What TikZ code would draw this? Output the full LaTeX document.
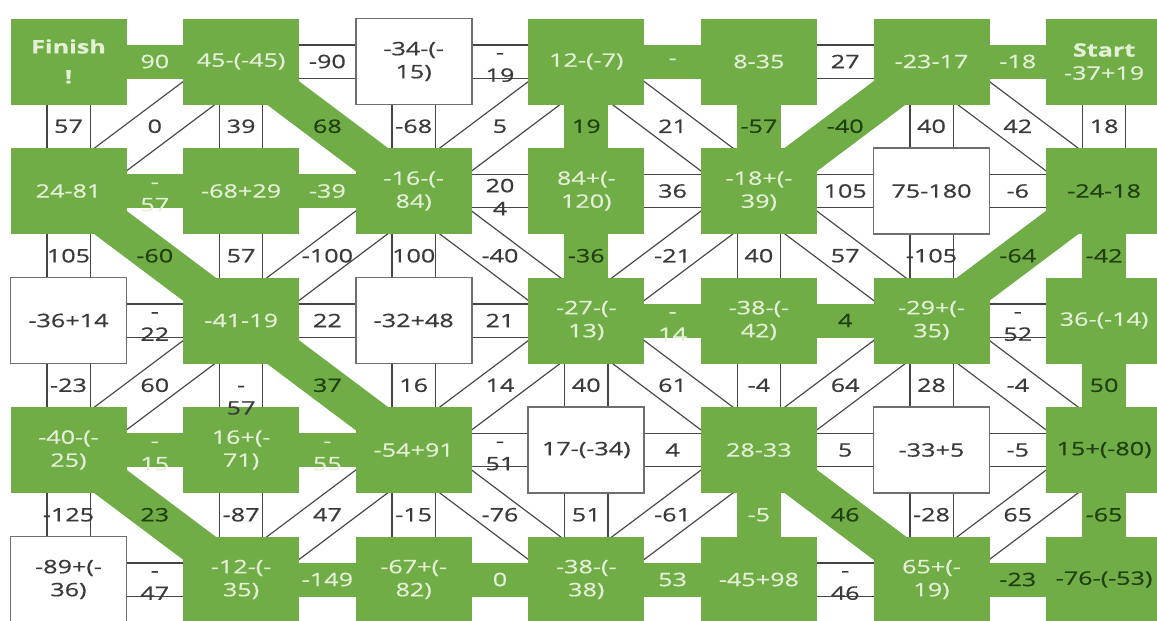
\documentclass[tikz,border=0pt]{standalone}
\usepackage{fontspec}
\setmainfont{Open Sans}[FakeStretch=1.36, FakeBold=0.7]
\usetikzlibrary{positioning,backgrounds}
\definecolor{Leaf}{HTML}{70AD47}
\definecolor{Pale}{HTML}{E4F0D6}
\definecolor{Moss}{HTML}{21400D}
\definecolor{Ink}{HTML}{3A3A3A}
\definecolor{Frame}{HTML}{6E6E6E}
\definecolor{Wire}{HTML}{454545}

\begin{document}
\begin{tikzpicture}[
  x=1pt, y=1pt, color=Ink,
  font=\fontsize{18.5}{23}\selectfont,
  gbox/.style={fill=Leaf, text=Pale, minimum width=116pt, minimum height=86pt, inner sep=2pt, outer sep=0pt, align=center},
  wbox/.style={gbox, fill=white, draw=Frame, line width=1.8pt, text=Ink},
  dbox/.style={gbox, text=Moss},
  hlink/.style={draw=Wire, line width=1.3pt, double=white, double distance=32pt},
  vlink/.style={hlink, double distance=42pt},
  dlink/.style={hlink, double distance=36pt},
  hbar/.style={draw=Leaf, line width=34pt},
  vbar/.style={hbar, line width=44pt},
  dbar/.style={hbar, line width=38pt},
  lt/.style={text=Pale},
  dk/.style={text=Moss},
  two/.style={align=center, yshift=-6pt}
]
  \useasboundingbox (0,0) rectangle (1157,-621);

  % row 0
  \node[gbox] (b00) at (68.5,-61.5) {\textbf{Finish}\\[7pt]\textbf{!}};
  \node[gbox, right=56.6pt of b00] (b01) {45-(-45)};
  \node[wbox, right=56.6pt of b01] (b02) {-34-(-\\15)};
  \node[gbox, right=56.6pt of b02] (b03) {12-(-7)};
  \node[gbox, right=56.6pt of b03] (b04) {8-35};
  \node[gbox, right=56.6pt of b04] (b05) {-23-17};
  \node[gbox, right=56.6pt of b05] (b06) {\textbf{Start}\\-37+19};
  % row 1
  \node[gbox, below=43.5pt of b00] (b10) {24-81};
  \node[gbox, right=56.6pt of b10] (b11) {-68+29};
  \node[gbox, right=56.6pt of b11] (b12) {-16-(-\\84)};
  \node[gbox, right=56.6pt of b12] (b13) {84+(-\\120)};
  \node[gbox, right=56.6pt of b13] (b14) {-18+(-\\39)};
  \node[wbox, right=56.6pt of b14] (b15) {75-180};
  \node[dbox, right=56.6pt of b15] (b16) {-24-18};
  % row 2
  \node[wbox, below=43.5pt of b10] (b20) {-36+14};
  \node[gbox, right=56.6pt of b20] (b21) {-41-19};
  \node[wbox, right=56.6pt of b21] (b22) {-32+48};
  \node[gbox, right=56.6pt of b22] (b23) {-27-(-\\13)};
  \node[gbox, right=56.6pt of b23] (b24) {-38-(-\\42)};
  \node[gbox, right=56.6pt of b24] (b25) {-29+(-\\35)};
  \node[gbox, right=56.6pt of b25] (b26) {36-(-14)};
  % row 3
  \node[gbox, below=43.5pt of b20] (b30) {-40-(-\\25)};
  \node[gbox, right=56.6pt of b30] (b31) {16+(-\\71)};
  \node[gbox, right=56.6pt of b31] (b32) {-54+91};
  \node[wbox, right=56.6pt of b32] (b33) {17-(-34)};
  \node[gbox, right=56.6pt of b33] (b34) {28-33};
  \node[wbox, right=56.6pt of b34] (b35) {-33+5};
  \node[dbox, right=56.6pt of b35] (b36) {15+(-80)};
  % row 4
  \node[wbox, below=43.5pt of b30] (b40) {-89+(-\\36)};
  \node[gbox, right=56.6pt of b40] (b41) {-12-(-\\35)};
  \node[gbox, right=56.6pt of b41] (b42) {-67+(-\\82)};
  \node[gbox, right=56.6pt of b42] (b43) {-38-(-\\38)};
  \node[gbox, right=56.6pt of b43] (b44) {-45+98};
  \node[gbox, right=56.6pt of b44] (b45) {65+(-\\19)};
  \node[dbox, right=56.6pt of b45] (b46) {-76-(-53)};

  \begin{scope}[on background layer]
    \fill[white] (0,0) rectangle (1157,-621);
    % diagonals
    \draw[dlink] (b01.center) -- node{0} (b10.center);
    \draw[dbar] (b01.center) -- node[dk]{68} (b12.center);
    \draw[dlink] (b03.center) -- node{5} (b12.center);
    \draw[dlink] (b03.center) -- node{21} (b14.center);
    \draw[dbar] (b05.center) -- node[dk]{-40} (b14.center);
    \draw[dlink] (b05.center) -- node{42} (b16.center);
    \draw[dbar] (b10.center) -- node[dk]{-60} (b21.center);
    \draw[dlink] (b12.center) -- node{-100} (b21.center);
    \draw[dlink] (b12.center) -- node{-40} (b23.center);
    \draw[dlink] (b14.center) -- node{-21} (b23.center);
    \draw[dlink] (b14.center) -- node{57} (b25.center);
    \draw[dbar] (b16.center) -- node[dk]{-64} (b25.center);
    \draw[dlink] (b21.center) -- node{60} (b30.center);
    \draw[dbar] (b21.center) -- node[dk]{37} (b32.center);
    \draw[dlink] (b23.center) -- node{14} (b32.center);
    \draw[dlink] (b23.center) -- node{61} (b34.center);
    \draw[dlink] (b25.center) -- node{64} (b34.center);
    \draw[dlink] (b25.center) -- node{-4} (b36.center);
    \draw[dbar] (b30.center) -- node[dk]{23} (b41.center);
    \draw[dlink] (b32.center) -- node{47} (b41.center);
    \draw[dlink] (b32.center) -- node{-76} (b43.center);
    \draw[dlink] (b34.center) -- node{-61} (b43.center);
    \draw[dbar] (b34.center) -- node[dk]{46} (b45.center);
    \draw[dlink] (b36.center) -- node{65} (b45.center);
    % across
    \draw[hbar] (b00.center) -- node[lt]{90} (b01.center);
    \draw[hlink] (b01.center) -- node{-90} (b02.center);
    \draw[hlink] (b02.center) -- node[two]{-\\19} (b03.center);
    \draw[hbar] (b03.center) -- node[lt]{-} (b04.center);
    \draw[hlink] (b04.center) -- node{27} (b05.center);
    \draw[hbar] (b05.center) -- node[lt]{-18} (b06.center);
    \draw[hbar] (b10.center) -- node[lt, two]{-\\57} (b11.center);
    \draw[hbar] (b11.center) -- node[lt]{-39} (b12.center);
    \draw[hlink] (b12.center) -- node[two]{20\\4} (b13.center);
    \draw[hlink] (b13.center) -- node{36} (b14.center);
    \draw[hlink] (b14.center) -- node{105} (b15.center);
    \draw[hlink] (b15.center) -- node{-6} (b16.center);
    \draw[hlink] (b20.center) -- node[two]{-\\22} (b21.center);
    \draw[hlink] (b21.center) -- node{22} (b22.center);
    \draw[hlink] (b22.center) -- node{21} (b23.center);
    \draw[hbar] (b23.center) -- node[lt, two]{-\\14} (b24.center);
    \draw[hbar] (b24.center) -- node[dk]{4} (b25.center);
    \draw[hlink] (b25.center) -- node[two]{-\\52} (b26.center);
    \draw[hbar] (b30.center) -- node[lt, two]{-\\15} (b31.center);
    \draw[hbar] (b31.center) -- node[lt, two]{-\\55} (b32.center);
    \draw[hlink] (b32.center) -- node[two]{-\\51} (b33.center);
    \draw[hlink] (b33.center) -- node{4} (b34.center);
    \draw[hlink] (b34.center) -- node{5} (b35.center);
    \draw[hlink] (b35.center) -- node{-5} (b36.center);
    \draw[hlink] (b40.center) -- node[two]{-\\47} (b41.center);
    \draw[hbar] (b41.center) -- node[lt]{-149} (b42.center);
    \draw[hbar] (b42.center) -- node[lt]{0} (b43.center);
    \draw[hbar] (b43.center) -- node[lt]{53} (b44.center);
    \draw[hlink] (b44.center) -- node[two]{-\\46} (b45.center);
    \draw[hbar] (b45.center) -- node[dk]{-23} (b46.center);
    % down
    \draw[vlink] (b00.center) -- node{57} (b10.center);
    \draw[vlink] (b01.center) -- node{39} (b11.center);
    \draw[vlink] (b02.center) -- node{-68} (b12.center);
    \draw[vbar] (b03.center) -- node[dk]{19} (b13.center);
    \draw[vbar] (b04.center) -- node[dk]{-57} (b14.center);
    \draw[vlink] (b05.center) -- node{40} (b15.center);
    \draw[vlink] (b06.center) -- node{18} (b16.center);
    \draw[vlink] (b10.center) -- node{105} (b20.center);
    \draw[vlink] (b11.center) -- node{57} (b21.center);
    \draw[vlink] (b12.center) -- node{100} (b22.center);
    \draw[vbar] (b13.center) -- node[dk]{-36} (b23.center);
    \draw[vlink] (b14.center) -- node{40} (b24.center);
    \draw[vlink] (b15.center) -- node{-105} (b25.center);
    \draw[vbar] (b16.center) -- node[dk]{-42} (b26.center);
    \draw[vlink] (b20.center) -- node{-23} (b30.center);
    \draw[vlink] (b21.center) -- (b31.center);
    \draw[vlink] (b22.center) -- node{16} (b32.center);
    \draw[vlink] (b23.center) -- node{40} (b33.center);
    \draw[vlink] (b24.center) -- node{-4} (b34.center);
    \draw[vlink] (b25.center) -- node{28} (b35.center);
    \draw[vbar] (b26.center) -- node[dk]{50} (b36.center);
    \draw[vlink] (b30.center) -- node{-125} (b40.center);
    \draw[vlink] (b31.center) -- node{-87} (b41.center);
    \draw[vlink] (b32.center) -- node{-15} (b42.center);
    \draw[vlink] (b33.center) -- node{51} (b43.center);
    \draw[vbar] (b34.center) -- node[lt]{-5} (b44.center);
    \draw[vlink] (b35.center) -- node{-28} (b45.center);
    \draw[vbar] (b36.center) -- node[dk]{-65} (b46.center);
  \end{scope}

  \path (b21) -- node[two, yshift=-9pt]{-\\57} (b31);
\end{tikzpicture}
\end{document}
